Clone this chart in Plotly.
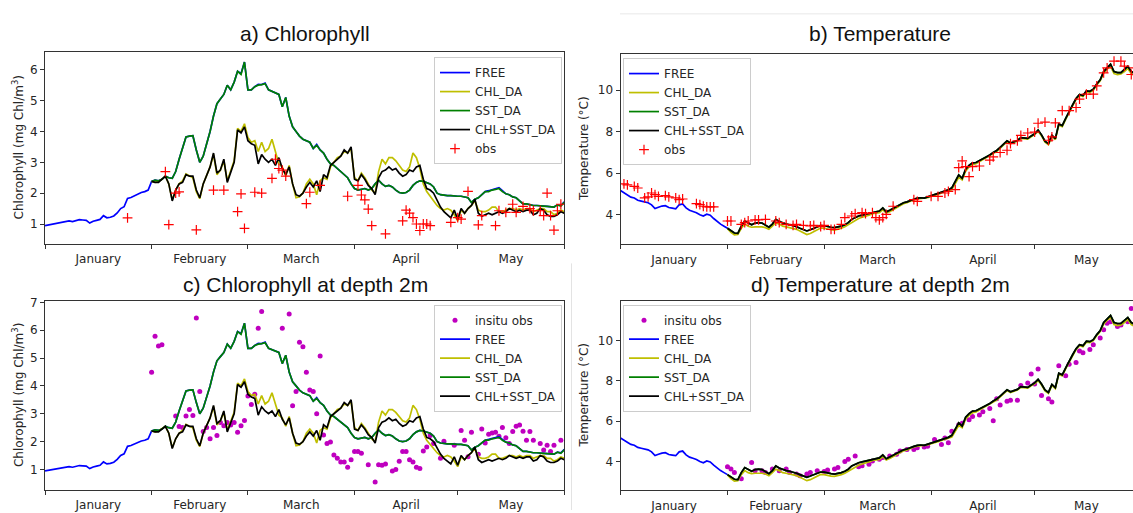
import pandas as pd
import plotly.graph_objects as go

START = pd.Timestamp("2019-01-01")

# ---------------- model runs: surface chlorophyll (mg Chl/m3) ----------------
# FREE run, daily from 1 January (day 0) to 1 June (day 151)
chl_free = [
    0.95, 0.97, 0.98, 1.02, 1.03, 1.05, 1.08, 1.10, 1.08, 1.12,
    1.14, 1.13, 1.12, 1.03, 1.09, 1.12, 1.15, 1.27, 1.20, 1.22,
    1.26, 1.36, 1.50, 1.56, 1.83, 1.86, 1.92, 1.96, 2.02, 2.05,
    2.10,
    2.38, 2.42, 2.40, 2.45, 2.55, 2.50, 2.48, 2.70, 3.10, 3.50,
    3.82, 3.85, 3.86, 3.40, 3.00, 3.20, 3.60, 4.00, 4.50, 4.90,
    5.05, 5.20, 5.50, 5.35, 5.60, 5.95, 5.88, 6.25, 5.35, 5.35,
    5.45, 5.53, 5.52, 5.57, 5.35, 5.30, 5.25, 5.20, 4.80, 5.10,
    4.50, 4.15, 4.00, 3.85, 3.75, 3.70, 3.65, 3.45, 3.58, 3.40,
    3.30, 3.10, 2.95, 2.90, 2.80, 2.70, 2.60, 2.50, 2.30, 2.15,
    2.10, 2.12, 2.15, 2.10, 2.15, 2.30, 2.42, 2.30, 2.22, 2.25,
    2.20, 2.10, 2.02, 2.00, 2.02, 2.10, 2.25, 2.35, 2.40, 2.38,
    2.35, 2.30, 2.20, 2.00, 1.95, 1.93, 1.92, 1.92, 1.90, 1.90,
    1.90, 1.88, 1.85, 1.70, 1.80, 1.85, 1.95, 2.05, 2.08, 2.12,
    2.15, 2.18, 2.08, 1.98, 1.95, 1.88, 1.85, 1.75, 1.65, 1.65,
    1.62, 1.60, 1.60, 1.58, 1.58, 1.57, 1.55, 1.55, 1.62, 1.60,
    1.72,
]
# assimilation runs, daily from 1 February (day 31) to 1 June (day 151)
chl_chl_da = [
    2.38, 2.35, 2.38, 2.45, 2.55, 2.30, 1.78, 2.10, 2.30, 2.40,
    2.62, 2.55, 2.50, 2.05, 1.82, 2.30, 2.60, 2.85, 3.25, 2.60,
    2.75, 3.05, 2.40, 2.75, 3.05, 4.10, 4.00, 4.25, 3.80, 3.65,
    3.70, 3.35, 3.65, 3.35, 3.45, 3.75, 3.30, 2.95, 2.85, 2.55,
    2.90, 2.30, 1.85, 1.88, 2.00, 2.30, 2.45, 2.30, 1.95, 2.40,
    2.50, 2.45, 2.85, 3.00, 3.15, 3.20, 3.35, 3.30, 3.45, 2.50,
    2.40, 2.65, 2.50, 2.30, 2.10, 2.00, 2.70, 3.10, 2.95, 3.15,
    3.15, 3.05, 2.90, 2.75, 2.70, 2.85, 3.30, 3.15, 2.80, 2.30,
    2.05, 1.90, 1.75, 1.60, 1.50, 1.45, 1.50, 1.45, 1.30, 1.10,
    1.45, 1.35, 1.50, 1.60, 1.75, 1.45, 1.40, 1.40, 1.45, 1.55,
    1.55, 1.40, 1.40, 1.45, 1.50, 1.50, 1.45, 1.50, 1.45, 1.50,
    1.50, 1.40, 1.45, 1.50, 1.50, 1.40, 1.40, 1.30, 1.35, 1.45,
    1.40,
]
chl_sst_da = [
    2.38, 2.42, 2.40, 2.45, 2.55, 2.50, 2.48, 2.70, 3.10, 3.50,
    3.82, 3.85, 3.86, 3.40, 3.00, 3.20, 3.60, 4.00, 4.50, 4.90,
    5.05, 5.20, 5.50, 5.35, 5.60, 5.95, 5.85, 6.25, 5.35, 5.35,
    5.45, 5.50, 5.52, 5.55, 5.35, 5.30, 5.25, 5.20, 4.80, 5.10,
    4.50, 4.15, 4.00, 3.85, 3.75, 3.70, 3.65, 3.45, 3.55, 3.40,
    3.30, 3.10, 2.95, 2.90, 2.80, 2.70, 2.60, 2.50, 2.30, 2.15,
    2.10, 2.12, 2.15, 2.10, 2.15, 2.30, 2.42, 2.30, 2.22, 2.25,
    2.20, 2.10, 2.02, 2.00, 2.02, 2.10, 2.25, 2.35, 2.40, 2.38,
    2.35, 2.30, 2.20, 2.00, 1.95, 1.93, 1.92, 1.92, 1.90, 1.90,
    1.90, 1.88, 1.85, 1.70, 1.80, 1.85, 1.95, 2.05, 2.05, 2.10,
    2.12, 2.15, 2.05, 1.98, 1.95, 1.88, 1.85, 1.75, 1.65, 1.65,
    1.62, 1.60, 1.60, 1.58, 1.58, 1.57, 1.55, 1.55, 1.62, 1.58,
    1.70,
]
chl_chl_sst_da = [
    2.38, 2.35, 2.35, 2.45, 2.55, 2.30, 1.75, 2.10, 2.30, 2.35,
    2.60, 2.55, 2.55, 2.10, 1.85, 2.30, 2.55, 2.85, 3.30, 2.65,
    2.75, 3.10, 2.35, 2.70, 3.00, 4.05, 3.95, 4.15, 3.70, 3.60,
    3.55, 2.95, 3.25, 3.10, 3.00, 3.10, 2.90, 3.15, 2.80, 2.60,
    2.85, 2.30, 1.95, 1.90, 2.00, 2.20, 2.35, 2.20, 2.40, 2.05,
    2.60, 2.50, 2.90, 3.00, 3.10, 3.20, 3.40, 3.30, 3.50, 2.45,
    2.40, 2.60, 2.45, 2.25, 2.15, 1.95, 2.50, 2.70, 2.75, 2.85,
    2.75, 2.80, 2.65, 2.55, 2.60, 2.75, 2.70, 2.85, 2.90, 2.45,
    2.15, 2.10, 2.00, 1.75, 1.55, 1.40, 1.30, 1.20, 1.45, 1.15,
    1.50, 1.35, 1.50, 1.60, 1.80, 1.35, 1.25, 1.30, 1.35, 1.30,
    1.35, 1.40, 1.35, 1.40, 1.50, 1.45, 1.40, 1.45, 1.40, 1.45,
    1.45, 1.30, 1.35, 1.50, 1.45, 1.30, 1.25, 1.25, 1.30, 1.40,
    1.35,
]

# ---------------- model runs: temperature (deg C) ----------------
# FREE run spin-up, days 0..31
temp_free = [
    5.17, 5.05, 4.93, 4.85, 4.81, 4.70, 4.66, 4.62, 4.58, 4.48,
    4.30, 4.36, 4.42, 4.44, 4.35, 4.32, 4.29, 4.48, 4.52, 4.33,
    4.22, 4.16, 4.10, 4.00, 3.94, 4.03, 3.98, 3.82, 3.68, 3.55,
    3.45, 3.35,
]
# assimilation runs, days 31..151
temp_chl_da = [
    3.33, 3.15, 3.03, 3.05, 3.35, 3.55, 3.45, 3.40, 3.42, 3.42,
    3.42, 3.38, 3.30, 3.45, 3.62, 3.55, 3.45, 3.42, 3.38, 3.35,
    3.30, 3.22, 3.12, 3.05, 3.10, 3.20, 3.30, 3.36, 3.35, 3.30,
    3.28, 3.26, 3.30, 3.35, 3.42, 3.52, 3.65, 3.75, 3.82, 3.88,
    3.92, 3.98, 4.05, 4.07, 4.10, 4.25, 4.08, 4.15, 4.24, 4.36,
    4.43, 4.53, 4.58, 4.66, 4.72, 4.76, 4.78, 4.77, 4.82, 4.88,
    4.92, 4.98, 5.05, 5.12, 5.15, 5.22, 5.50, 5.80, 5.68, 6.10,
    6.30, 6.42, 6.46, 6.55, 6.65, 6.75, 6.83, 6.95, 7.05, 7.20,
    7.35, 7.52, 7.42, 7.48, 7.55, 7.68, 7.66, 7.64, 7.76, 7.86,
    8.02, 7.80, 7.50, 7.38, 7.78, 7.62, 8.32, 8.25, 8.60, 8.95,
    9.25, 9.55, 9.75, 9.70, 9.92, 9.90, 10.00, 10.25, 10.45, 10.82,
    11.02, 11.15, 10.80, 10.75, 10.78, 10.90, 11.05, 10.80, 10.70, 10.75,
    10.85,
]
temp_sst_da = [
    3.35, 3.22, 3.12, 3.10, 3.45, 3.70, 3.60, 3.52, 3.60, 3.62,
    3.60, 3.50, 3.40, 3.55, 3.78, 3.68, 3.60, 3.55, 3.52, 3.48,
    3.42, 3.35, 3.28, 3.22, 3.28, 3.35, 3.43, 3.48, 3.47, 3.42,
    3.40, 3.38, 3.40, 3.45, 3.52, 3.62, 3.78, 3.88, 3.94, 3.98,
    4.02, 4.08, 4.13, 4.14, 4.18, 4.33, 4.14, 4.22, 4.30, 4.42,
    4.48, 4.58, 4.62, 4.70, 4.75, 4.80, 4.82, 4.80, 4.86, 4.92,
    4.97, 5.03, 5.10, 5.17, 5.20, 5.30, 5.60, 5.92, 5.76, 6.20,
    6.38, 6.50, 6.52, 6.60, 6.70, 6.80, 6.88, 7.00, 7.10, 7.25,
    7.40, 7.56, 7.46, 7.52, 7.58, 7.72, 7.70, 7.68, 7.80, 7.90,
    8.08, 7.85, 7.55, 7.43, 7.83, 7.67, 8.38, 8.30, 8.65, 9.00,
    9.30, 9.60, 9.80, 9.75, 9.97, 9.95, 10.05, 10.30, 10.50, 10.90,
    11.10, 11.25, 10.90, 10.85, 10.85, 11.00, 11.15, 10.90, 10.80, 10.85,
    10.95,
]
temp_chl_sst_da = [
    3.35, 3.22, 3.12, 3.10, 3.45, 3.70, 3.60, 3.52, 3.60, 3.62,
    3.60, 3.50, 3.40, 3.55, 3.78, 3.68, 3.60, 3.55, 3.52, 3.48,
    3.42, 3.35, 3.28, 3.22, 3.28, 3.35, 3.43, 3.48, 3.47, 3.42,
    3.40, 3.38, 3.40, 3.45, 3.52, 3.62, 3.78, 3.88, 3.94, 3.98,
    4.02, 4.08, 4.13, 4.14, 4.18, 4.33, 4.14, 4.22, 4.30, 4.42,
    4.48, 4.58, 4.62, 4.70, 4.75, 4.80, 4.82, 4.80, 4.86, 4.92,
    4.97, 5.03, 5.10, 5.17, 5.20, 5.30, 5.60, 5.92, 5.76, 6.20,
    6.38, 6.50, 6.52, 6.60, 6.70, 6.80, 6.88, 7.00, 7.10, 7.25,
    7.40, 7.56, 7.46, 7.52, 7.58, 7.72, 7.70, 7.68, 7.80, 7.90,
    8.08, 7.85, 7.55, 7.43, 7.83, 7.67, 8.38, 8.30, 8.65, 9.00,
    9.30, 9.60, 9.80, 9.75, 9.97, 9.95, 10.05, 10.30, 10.50, 10.90,
    11.10, 11.25, 10.90, 10.85, 10.85, 11.00, 11.15, 10.90, 10.80, 10.85,
    10.95,
]

# ---------------- observations (day since 1 January, value) ----------------
sat_chl_days = [24, 35, 36, 38, 39, 44, 49, 52, 56, 57, 58, 61, 63, 66, 67, 68, 69, 70,
                76, 77, 80, 88, 91, 92, 93, 94, 95, 99, 104, 105, 106, 107, 108, 109,
                110, 111, 112, 118, 120, 121, 123, 126, 127, 131, 132, 134, 136, 137,
                139, 141, 142, 144, 145, 146, 147, 148, 149, 150]
sat_chl_vals = [1.20, 2.70, 0.98, 2.00, 2.04, 0.81, 2.10, 2.10, 1.40, 1.98, 0.86, 2.03,
                2.00, 2.48, 3.10, 2.80, 2.75, 2.55, 1.66, 2.03, 2.25, 1.90, 2.25, 1.94,
                1.78, 1.48, 0.95, 0.68, 1.10, 1.45, 1.35, 1.21, 1.00, 0.79, 1.00, 1.00,
                0.95, 1.05, 1.21, 1.16, 2.06, 0.97, 1.27, 0.95, 1.43, 1.38, 1.64, 1.38,
                1.57, 1.50, 1.43, 1.43, 1.27, 2.00, 1.27, 0.80, 1.43, 1.64]

sat_sst_days = [1, 2, 4, 5, 7, 8, 9, 10, 11, 13, 14, 16, 17, 18, 22, 23, 24, 25, 26, 27,
                31, 32, 35, 36, 37, 39, 40, 42, 45, 46, 48, 50, 51, 53, 55, 56, 58, 59,
                61, 62, 64, 65, 67, 68, 70, 71, 73, 74, 75, 76, 77, 79, 85, 86, 90, 92,
                94, 95, 97, 98, 99, 100, 101, 102, 104, 107, 108, 110, 112, 113, 115,
                116, 118, 120, 121, 123, 124, 125, 126, 128, 130, 132, 133, 135, 137,
                138, 140, 141, 143, 145, 146, 148, 149]
sat_sst_vals = [5.49, 5.44, 5.37, 5.29, 4.81, 4.86, 5.05, 4.97, 4.89, 4.92, 4.86, 4.81,
                4.73, 4.76, 4.54, 4.49, 4.41, 4.38, 4.38, 4.38, 3.70, 3.70, 3.54, 3.62,
                3.70, 3.75, 3.75, 3.78, 3.70, 3.62, 3.54, 3.49, 3.54, 3.49, 3.46, 3.49,
                3.43, 3.49, 3.30, 3.30, 3.54, 3.86, 3.94, 4.06, 4.10, 4.06, 4.10, 3.86,
                3.75, 3.86, 4.02, 4.41, 4.73, 4.65, 4.89, 4.89, 5.05, 5.13, 5.21, 6.27,
                6.60, 6.32, 5.84, 6.32, 6.35, 6.63, 6.79, 7.00, 7.11, 7.43, 7.56, 7.83,
                7.94, 7.98, 8.41, 8.46, 7.59, 7.75, 8.43, 9.02, 9.02, 9.17, 9.57, 9.81,
                9.81, 10.21, 10.84, 11.08, 11.40, 11.40, 11.16, 10.76, 11.08]

insitu_chl_days = [31, 32, 33, 34, 38, 39, 40, 41, 42, 43, 44, 45, 46, 47, 48, 49, 50,
                   51, 52, 53, 54, 55, 56, 57, 58, 59, 60, 61, 62, 63, 69, 71, 72, 73,
                   74, 75, 76, 77, 78, 79, 80, 81, 82, 83, 84, 85, 86, 87, 88, 89, 90,
                   91, 92, 94, 96, 97, 98, 99, 101, 102, 103, 104, 105, 106, 107, 108,
                   109, 110, 111, 112, 113, 115, 116, 119, 121, 122, 123, 124, 126, 127,
                   128, 129, 130, 131, 132, 133, 134, 135, 136, 137, 138, 139, 140, 141,
                   142, 144, 145, 146, 147, 148, 150]
insitu_chl_vals = [4.49, 5.78, 5.43, 5.48, 2.92, 2.54, 2.51, 2.92, 3.15, 2.94, 6.44, 3.80,
                   2.36, 2.51, 2.10, 2.51, 2.22, 2.69, 2.57, 2.69, 2.60, 2.69, 2.34, 2.57,
                   2.76, 3.64, 3.33, 3.70, 6.07, 6.67, 6.07, 6.58, 3.29, 3.80, 5.57, 5.41,
                   4.49, 3.85, 3.80, 3.00, 5.07, 2.24, 1.93, 1.99, 1.52, 1.40, 1.27, 1.27,
                   1.08, 1.35, 1.64, 1.64, 1.58, 1.17, 0.55, 1.17, 1.15, 1.20, 0.94, 1.00,
                   1.29, 1.64, 1.64, 1.35, 1.27, 1.08, 1.03, 1.66, 1.81, 2.22, 1.93, 1.40,
                   2.01, 1.87, 2.40, 2.05, 1.46, 2.34, 1.55, 2.45, 1.95, 2.26, 2.31, 2.34,
                   2.19, 2.51, 2.14, 1.93, 2.36, 2.55, 2.60, 2.37, 2.05, 2.36, 2.05, 1.93,
                   1.70, 1.87, 1.64, 1.87, 2.05]

insitu_temp_days = [31, 32, 33, 35, 38, 39, 41, 42, 44, 46, 48, 49, 51, 52, 54, 55, 57,
                    59, 60, 62, 63, 65, 66, 68, 69, 70, 72, 73, 75, 76, 78, 80, 81, 83,
                    85, 86, 88, 89, 91, 93, 94, 95, 96, 98, 99, 101, 102, 104, 105, 107,
                    108, 109, 110, 112, 113, 115, 116, 118, 119, 120, 121, 122, 124, 125,
                    127, 129, 130, 132, 133, 134, 136, 137, 139, 140, 141, 142, 144, 145,
                    147, 148]
insitu_temp_vals = [3.74, 3.63, 3.46, 3.14, 3.95, 3.54, 3.54, 3.46, 3.63, 3.54, 3.63, 3.46,
                    3.38, 3.30, 3.38, 3.46, 3.54, 3.50, 3.58, 3.63, 3.71, 4.00, 4.11, 4.28,
                    3.74, 3.79, 3.87, 4.03, 4.11, 4.20, 4.28, 4.36, 4.52, 4.60, 4.60, 4.68,
                    4.72, 4.76, 5.09, 4.85, 5.17, 4.93, 5.50, 5.82, 5.90, 6.07, 6.23, 6.31,
                    6.47, 6.63, 6.02, 7.12, 6.80, 6.99, 7.04, 7.04, 7.77, 7.90, 8.34, 7.85,
                    8.59, 7.28, 7.12, 6.96, 8.75, 8.26, 8.83, 8.91, 9.48, 9.40, 9.56, 9.80,
                    10.13, 10.54, 10.86, 10.94, 10.70, 10.78, 10.94, 11.59]

# ---------------- helpers ----------------
def to_dates(days):
    return [START + pd.Timedelta(days=d) for d in days]

free_chl_dates = to_dates(range(0, len(chl_free)))
free_temp_dates = to_dates(range(0, len(temp_free)))
da_dates = to_dates(range(31, 31 + len(chl_chl_sst_da)))

C_FREE, C_CHL, C_SST, C_BOTH = "#0000ff", "#bfbf00", "#008000", "#000000"
C_OBS, C_INSITU = "#ff0000", "#bf00bf"
LW = 1.7
TICK_FONT = dict(family="DejaVu Sans", size=12, color="#262626")

fig = go.Figure()


def add_runs(xa, ya, leg, free_x, free_y, chl_y, sst_y, both_y):
    fig.add_trace(go.Scatter(x=free_x, y=free_y, mode="lines", name="FREE",
                             line=dict(color=C_FREE, width=LW), xaxis=xa, yaxis=ya, legend=leg))
    fig.add_trace(go.Scatter(x=da_dates, y=chl_y, mode="lines", name="CHL_DA",
                             line=dict(color=C_CHL, width=LW), xaxis=xa, yaxis=ya, legend=leg))
    fig.add_trace(go.Scatter(x=da_dates, y=sst_y, mode="lines", name="SST_DA",
                             line=dict(color=C_SST, width=LW), xaxis=xa, yaxis=ya, legend=leg))
    fig.add_trace(go.Scatter(x=da_dates, y=both_y, mode="lines", name="CHL+SST_DA",
                             line=dict(color=C_BOTH, width=LW), xaxis=xa, yaxis=ya, legend=leg))


def add_sat(xa, ya, leg, days, vals):
    fig.add_trace(go.Scatter(x=to_dates(days), y=vals, mode="markers", name="obs",
                             marker=dict(symbol="cross-thin", size=7, color=C_OBS,
                                         line=dict(color=C_OBS, width=1.2)),
                             xaxis=xa, yaxis=ya, legend=leg))


def add_insitu(xa, ya, leg, days, vals):
    fig.add_trace(go.Scatter(x=to_dates(days), y=vals, mode="markers", name="insitu obs",
                             marker=dict(symbol="circle", size=5, color=C_INSITU),
                             xaxis=xa, yaxis=ya, legend=leg))


# a) surface chlorophyll
add_runs("x", "y", "legend", free_chl_dates, chl_free, chl_chl_da, chl_sst_da, chl_chl_sst_da)
add_sat("x", "y", "legend", sat_chl_days, sat_chl_vals)
# b) surface temperature
add_runs("x2", "y2", "legend2", free_temp_dates, temp_free, temp_chl_da, temp_sst_da, temp_chl_sst_da)
add_sat("x2", "y2", "legend2", sat_sst_days, sat_sst_vals)
# c) chlorophyll at 2 m
add_insitu("x3", "y3", "legend3", insitu_chl_days, insitu_chl_vals)
add_runs("x3", "y3", "legend3", free_chl_dates, chl_free, chl_chl_da, chl_sst_da, chl_chl_sst_da)
# d) temperature at 2 m
add_insitu("x4", "y4", "legend4", insitu_temp_days, insitu_temp_vals)
add_runs("x4", "y4", "legend4", free_temp_dates, temp_free, temp_chl_da, temp_sst_da, temp_chl_sst_da)

W, H = 1133, 513


def px(x):
    return x / W


def py(y):
    return 1 - y / H


def xaxis(domain, end, anchor):
    return dict(domain=domain, anchor=anchor, type="date",
                range=["2019-01-01", end], tick0="2019-01-01", dtick="M1",
                tickformat="%B", ticklabelmode="period",
                ticks="outside", ticklen=4, tickwidth=1, tickcolor="#333",
                showline=True, linecolor="#333", linewidth=1, mirror=True,
                showgrid=False, zeroline=False, tickfont=TICK_FONT)


def yaxis(domain, rng, anchor, dtick, mirror):
    return dict(domain=domain, anchor=anchor, range=rng, dtick=dtick, tick0=0,
                ticks="outside", ticklen=4, tickwidth=1, tickcolor="#333",
                showline=True, linecolor="#333", linewidth=1, mirror=mirror,
                showgrid=False, zeroline=False, tickfont=TICK_FONT)


left_dom = [px(45), px(564.3)]
right_dom = [px(620.5), 1.0]

legend_style = dict(bgcolor="rgba(255,255,255,0.85)", bordercolor="#cccccc", borderwidth=1,
                    font=dict(family="DejaVu Sans", size=12, color="#262626"),
                    xanchor="left", yanchor="top", itemwidth=30, tracegroupgap=0)

fig.update_layout(
    width=W, height=H, margin=dict(l=0, r=0, t=0, b=0),
    paper_bgcolor="white", plot_bgcolor="white",
    xaxis=xaxis(left_dom, "2019-06-01", "y"),
    yaxis=yaxis([py(242), py(47)], [0.36, 6.57], "x", 1, True),
    xaxis2=xaxis(right_dom, "2019-05-29 12:00", "y2"),
    yaxis2=yaxis([py(242.5), py(49)], [2.58, 11.74], "x2", 2, False),
    xaxis3=xaxis(left_dom, "2019-06-01", "y3"),
    yaxis3=yaxis([py(492.7), py(300.5)], [0.26, 7.04], "x3", 1, True),
    xaxis4=xaxis(right_dom, "2019-05-29 12:00", "y4"),
    yaxis4=yaxis([py(493), py(300)], [2.57, 11.98], "x4", 2, False),
    legend=dict(x=px(434), y=py(52), **legend_style),
    legend2=dict(x=px(623), y=py(53), **legend_style),
    legend3=dict(x=px(434), y=py(304), **legend_style),
    legend4=dict(x=px(623), y=py(304), **legend_style),
)

TITLE_FONT = dict(family="Liberation Sans, Arial, sans-serif", size=21, color="#111")
AXT_FONT = dict(family="DejaVu Sans", size=12, color="#262626")
titles = [
    ("a) Chlorophyll", 305, 28),
    ("b) Temperature", 880, 28),
    ("c) Chlorophyll at depth 2m", 305, 283.5),
    ("d) Temperature at depth 2m", 880, 283.5),
]
for text, x, y in titles:
    fig.add_annotation(text=text, x=px(x), y=py(y), xref="paper", yref="paper",
                       showarrow=False, xanchor="center", yanchor="middle", font=TITLE_FONT)

ytitles = [
    ("Chlorophyll (mg Chl/m<sup>3</sup>)", 17.5, 144.5),
    ("Temperature (°C)", 584, 145.5),
    ("Chlorophyll (mg Chl/m<sup>3</sup>)", 17.5, 396.5),
    ("Temperature (°C)", 584, 396.5),
]
for text, x, y in ytitles:
    fig.add_annotation(text=text, x=px(x), y=py(y), xref="paper", yref="paper",
                       showarrow=False, textangle=-90, xanchor="center", yanchor="middle",
                       font=AXT_FONT)

# thin separators between the panels
fig.add_shape(type="line", xref="paper", yref="paper", x0=px(571.5), x1=px(571.5),
              y0=0, y1=py(262), line=dict(color="#e3e3e3", width=1))
fig.add_shape(type="line", xref="paper", yref="paper", x0=px(620), x1=1,
              y0=py(8), y1=py(8), line=dict(color="#e8e8e8", width=1))

fig.write_html("out.html")
